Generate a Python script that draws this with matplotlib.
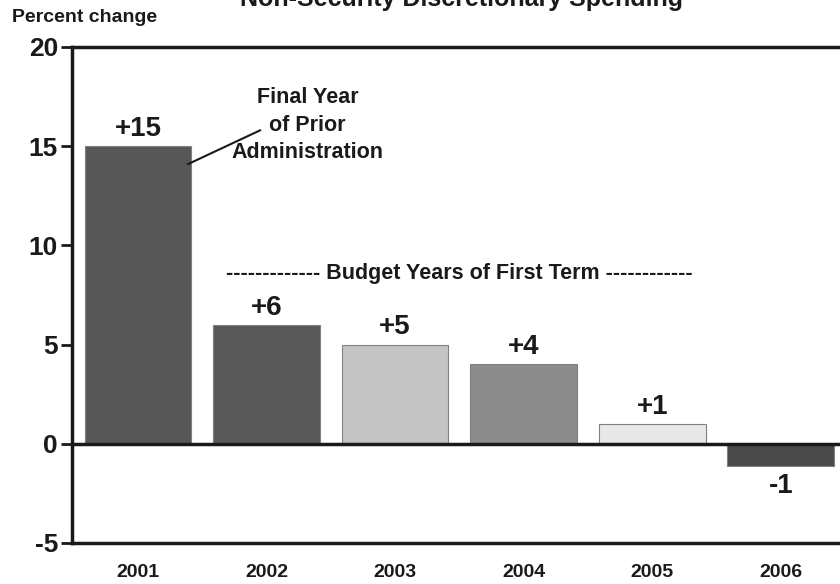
import matplotlib.pyplot as plt
import numpy as np

years = ['2001', '2002', '2003', '2004', '2005', '2006']
values = [15, 6, 5, 4, 1, -1.1]
labels = ['+15', '+6', '+5', '+4', '+1', '-1']
colors = ['#575757', '#595959', '#c4c4c4', '#8c8c8c', '#e8e8e8', '#4a4a4a']
yticks = [-5, 0, 5, 10, 15, 20]

plt.rcParams['font.family'] = ['Liberation Sans', 'DejaVu Sans']
plt.rcParams['font.weight'] = 'bold'

fig = plt.figure(figsize=(8.4, 5.84), dpi=100)
ax = fig.add_axes([72 / 840, 41 / 584, 1 - 72 / 840, 496 / 584])

x = np.arange(len(years))
ax.bar(x, values, width=0.83, color=colors, edgecolor='#808080', linewidth=0.8, zorder=2)
ax.axhline(0, color='#1a1a1a', linewidth=2.5, zorder=3)

for xi, v, lab in zip(x, values, labels):
    if v >= 0:
        ax.annotate(lab, (xi, v), xytext=(0, 3), textcoords='offset points',
                    ha='center', va='bottom', fontsize=20, fontweight='bold', color='#1a1a1a')
    else:
        ax.annotate(lab, (xi, v), xytext=(0, -5), textcoords='offset points',
                    ha='center', va='top', fontsize=20, fontweight='bold', color='#1a1a1a')

ax.set_xlim(-0.513, 5.46)
ax.set_ylim(-5, 20)
ax.set_yticks(yticks)
ax.set_yticklabels([str(t) for t in yticks], fontsize=19, fontweight='bold', color='#1a1a1a')
ax.set_xticks(x)
ax.set_xticklabels(years, fontsize=14, fontweight='bold', color='#1a1a1a')
ax.tick_params(axis='x', length=0, pad=15)
ax.tick_params(axis='y', length=8, width=2, direction='out', pad=2, color='#1a1a1a')

for side in ['left', 'top', 'bottom']:
    ax.spines[side].set_linewidth(2.5)
    ax.spines[side].set_color('#1a1a1a')
ax.spines['right'].set_visible(False)

# annotation for 2001
ax.plot([0.39, 0.95], [14.1, 15.8], color='#1a1a1a', linewidth=1.5, zorder=4)
ax.text(1.32, 16.05, 'Final Year\nof Prior\nAdministration', ha='center', va='center',
        fontsize=15.5, fontweight='bold', color='#1a1a1a', linespacing=1.4)

ax.text(2.5, 8.6, '------------- Budget Years of First Term ------------',
        ha='center', va='center', fontsize=15.5, fontweight='bold', color='#1a1a1a')

fig.text(12 / 840, 1 - 18 / 584, 'Percent change', ha='left', va='center',
         fontsize=14, fontweight='bold', color='#1a1a1a')
fig.text(461 / 840, 1 - 6 / 584, 'Non-Security Discretionary Spending', ha='center',
         va='baseline', fontsize=18, fontweight='bold', color='#1a1a1a')

fig.savefig('out.png', dpi=100)
